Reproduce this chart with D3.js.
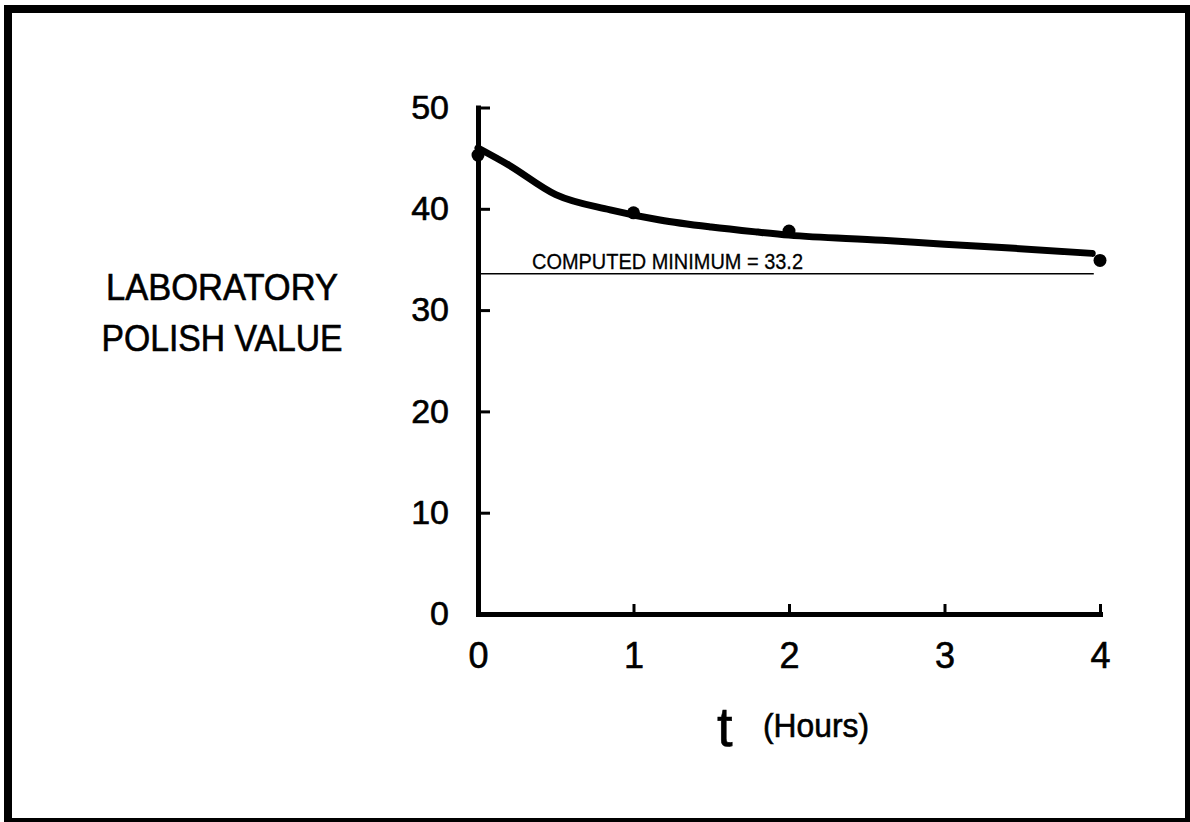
<!DOCTYPE html>
<html>
<head>
<meta charset="utf-8">
<script src="https://d3js.org/d3.v7.min.js"></script>
<style>
  body { margin: 0; background: #fff; }
  svg { display: block; font-family: "Liberation Sans", Arial, Helvetica, sans-serif; }
  svg text { stroke: #000; stroke-width: 0.6px; }
</style>
</head>
<body>
<svg id="drawing_region"></svg>
<script>
const hourTicks = [0, 1, 2, 3, 4];
const polishTicks = [0, 10, 20, 30, 40, 50];

// measured points
const pointHours = [0, 1, 2, 4];
const pointPolish = [45.3, 39.6, 37.8, 34.9];

// fitted curve
const curveHours = [0, 0.2, 0.5, 0.85, 1.17, 1.5, 1.8, 2.0, 2.6, 3.0, 3.45, 3.95];
const curvePolish = [46.0, 44.3, 41.4, 39.9, 38.9, 38.2, 37.7, 37.4, 36.9, 36.5, 36.1, 35.6];

// the minimum line is drawn a little above 33.2 in the original
const minimumPolish = 33.6;
const minimumHours = [0, 3.96];
const minimumText = 'COMPUTED MINIMUM = 33.2';

const yTitle = ['LABORATORY', 'POLISH VALUE'];
const xTitle = ['t', '(Hours)'];

class PolishChart {

    constructor(config) {
        this.config = {
            parent: config.parent,
            width: config.width || 1190,
            height: config.height || 822,
            margin: config.margin || { top: 10, right: 10, bottom: 10, left: 10 }
        };
        this.init();
    }

    init() {
        let self = this;

        self.svg = d3.select(self.config.parent)
            .attr('width', self.config.width)
            .attr('height', self.config.height);

        // frame round the whole slide
        self.svg.append('rect')
            .attr('x', 8)
            .attr('y', 9)
            .attr('width', 1181)
            .attr('height', 813)
            .attr('fill', 'none')
            .attr('stroke', '#000')
            .attr('stroke-width', 8);

        self.chart = self.svg.append('g')
            .attr('transform', `translate(${self.config.margin.left}, ${self.config.margin.top})`);

        self.inner_width = self.config.width - self.config.margin.left - self.config.margin.right;
        self.inner_height = self.config.height - self.config.margin.top - self.config.margin.bottom;

        self.xscale = d3.scaleLinear()
            .domain([0, 4])
            .range([0, self.inner_width]);

        self.yscale = d3.scaleLinear()
            .domain([0, 50])
            .range([self.inner_height, 0]);

        self.xaxis = d3.axisBottom(self.xscale)
            .tickValues(hourTicks)
            .tickFormat(d3.format('d'))
            .tickSizeInner(-10)
            .tickSizeOuter(0)
            .tickPadding(28);

        self.yaxis = d3.axisLeft(self.yscale)
            .tickValues(polishTicks)
            .tickFormat(d3.format('d'))
            .tickSizeInner(-12)
            .tickSizeOuter(0)
            .tickPadding(29);

        self.xaxis_group = self.chart.append('g')
            .attr('transform', `translate(0, ${self.inner_height})`);

        self.yaxis_group = self.chart.append('g');

        self.line = d3.line()
            .x(i => self.xscale(curveHours[i]))
            .y(i => self.yscale(curvePolish[i]))
            .curve(d3.curveMonotoneX);
    }

    render() {
        let self = this;

        self.xaxis_group.call(self.xaxis);
        self.yaxis_group.call(self.yaxis);

        [self.xaxis_group, self.yaxis_group].forEach(g => {
            g.select('.domain')
                .attr('stroke-width', 5)
                .attr('stroke-linecap', 'square');
            g.selectAll('.tick line')
                .attr('stroke-width', 3);
        });

        self.xaxis_group.selectAll('.tick text')
            .attr('font-size', 36)
            .attr('fill', '#000');

        self.yaxis_group.selectAll('.tick text')
            .attr('font-size', 34)
            .attr('fill', '#000');

        // computed minimum
        self.chart.append('line')
            .attr('x1', self.xscale(minimumHours[0]))
            .attr('x2', self.xscale(minimumHours[1]))
            .attr('y1', self.yscale(minimumPolish))
            .attr('y2', self.yscale(minimumPolish))
            .attr('stroke', '#000')
            .attr('stroke-width', 1.5);

        self.chart.append('text')
            .attr('x', 54)
            .attr('y', self.yscale(minimumPolish) - 5)
            .attr('font-size', 22)
            .attr('textLength', 271)
            .attr('lengthAdjust', 'spacingAndGlyphs')
            .style('stroke-width', '0.3px')
            .text(minimumText);

        // fitted curve
        self.chart.append('path')
            .datum(d3.range(curveHours.length))
            .attr('d', self.line)
            .attr('fill', 'none')
            .attr('stroke', '#000')
            .attr('stroke-width', 7)
            .attr('stroke-linecap', 'round')
            .attr('stroke-linejoin', 'round');

        self.chart.selectAll('circle')
            .data(d3.range(pointHours.length))
            .enter()
            .append('circle')
            .attr('cx', i => self.xscale(pointHours[i]))
            .attr('cy', i => self.yscale(pointPolish[i]))
            .attr('r', 6.5)
            .attr('fill', '#000');

        // axis titles
        self.svg.append('g')
            .selectAll('text')
            .data(yTitle)
            .enter()
            .append('text')
            .attr('x', 222)
            .attr('y', (d, i) => 300 + i * 51)
            .attr('text-anchor', 'middle')
            .attr('font-size', 36)
            .attr('textLength', (d, i) => i == 0 ? 232 : 241)
            .attr('lengthAdjust', 'spacingAndGlyphs')
            .text(d => d);

        self.svg.append('text')
            .attr('x', 717)
            .attr('y', 746)
            .attr('font-size', 56)
            .text(xTitle[0]);

        self.svg.append('text')
            .attr('x', 763)
            .attr('y', 737)
            .attr('font-size', 34)
            .attr('textLength', 106)
            .attr('lengthAdjust', 'spacingAndGlyphs')
            .text(xTitle[1]);
    }
}

const chart = new PolishChart({
    parent: '#drawing_region',
    width: 1190,
    height: 822,
    margin: { top: 107.5, right: 90, bottom: 208, left: 478 }
});
chart.render();
</script>
</body>
</html>
